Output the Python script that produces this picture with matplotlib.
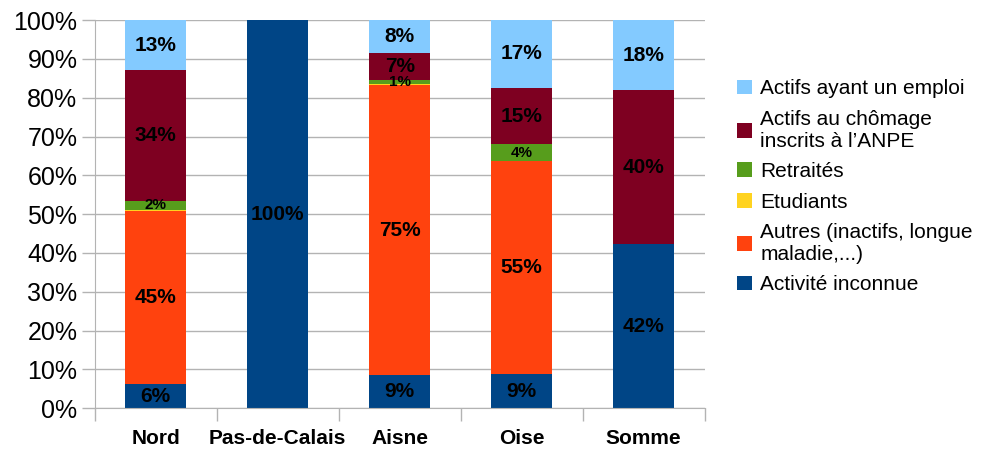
import matplotlib.pyplot as plt
import numpy as np
from matplotlib.ticker import FixedLocator, PercentFormatter

plt.rcParams['font.family'] = ['Liberation Sans', 'DejaVu Sans']

# Data (percent of each département)
departements = ["Nord", "Pas-de-Calais", "Aisne", "Oise", "Somme"]
inconnue = [6.2, 100, 8.6, 8.7, 42.3]
autres = [44.6, 0, 74.6, 55.0, 0]
etudiants = [0.4, 0, 0.4, 0, 0]
retraites = [2.2, 0, 1.0, 4.3, 0]
chomage = [33.8, 0, 6.9, 14.6, 39.7]
emploi = [12.8, 0, 8.5, 17.4, 18.0]

series = [
    ("Activité inconnue", inconnue, "#004586"),
    ("Autres (inactifs, longue\nmaladie,...)", autres, "#ff420e"),
    ("Etudiants", etudiants, "#ffd320"),
    ("Retraités", retraites, "#579d1c"),
    ("Actifs au chômage\ninscrits à l’ANPE", chomage, "#7e0021"),
    ("Actifs ayant un emploi", emploi, "#83caff"),
]

fig = plt.figure(figsize=(9.87, 4.49), dpi=100)
ax = fig.add_axes([0.096, 0.091, 0.618, 0.864])

x = np.arange(len(departements))
bottom = np.zeros(len(departements))
handles = []
for name, vals, color in series:
    vals = np.array(vals, dtype=float)
    bars = ax.bar(x, vals, 0.5, bottom=bottom, color=color, label=name, zorder=2)
    handles.append(bars)
    if name != "Etudiants":
        small = name == "Retraités"
        for xi, b, v in zip(x, bottom, vals):
            if v > 0:
                ax.text(xi, b + v / 2, f"{round(v)}%", ha="center", va="center",
                        fontsize=11 if small else 15, fontweight="bold", zorder=3)
    bottom += vals

ax.set_xlim(-0.5, 4.5)
ax.set_ylim(0, 100)
ax.yaxis.set_major_locator(FixedLocator(np.arange(0, 101, 10)))
ax.yaxis.set_major_formatter(PercentFormatter(decimals=0))
ax.grid(axis="y", color="#b3b3b3", linewidth=1, zorder=0)

ax.set_xticks(x)
ax.set_xticklabels(departements, fontsize=15, fontweight="bold")
ax.set_xticks(np.arange(-0.5, 5, 1), minor=True)
ax.tick_params(axis="x", which="major", length=0, pad=15)
ax.tick_params(axis="x", which="minor", length=9, color="#b3b3b3", width=1)
ax.tick_params(axis="y", length=9.5, color="#b3b3b3", width=1, labelsize=18, pad=3)

for s in ["top", "right"]:
    ax.spines[s].set_visible(False)
for s in ["left", "bottom"]:
    ax.spines[s].set_color("#b3b3b3")

leg = fig.legend(handles[::-1], [h.get_label() for h in handles[::-1]],
                 loc="center left", bbox_to_anchor=(0.728, 0.584), frameon=False,
                 fontsize=15, handlelength=0.7, handleheight=0.7,
                 handletextpad=0.4, labelspacing=0.55)

fig.savefig("out.png", dpi=100)
